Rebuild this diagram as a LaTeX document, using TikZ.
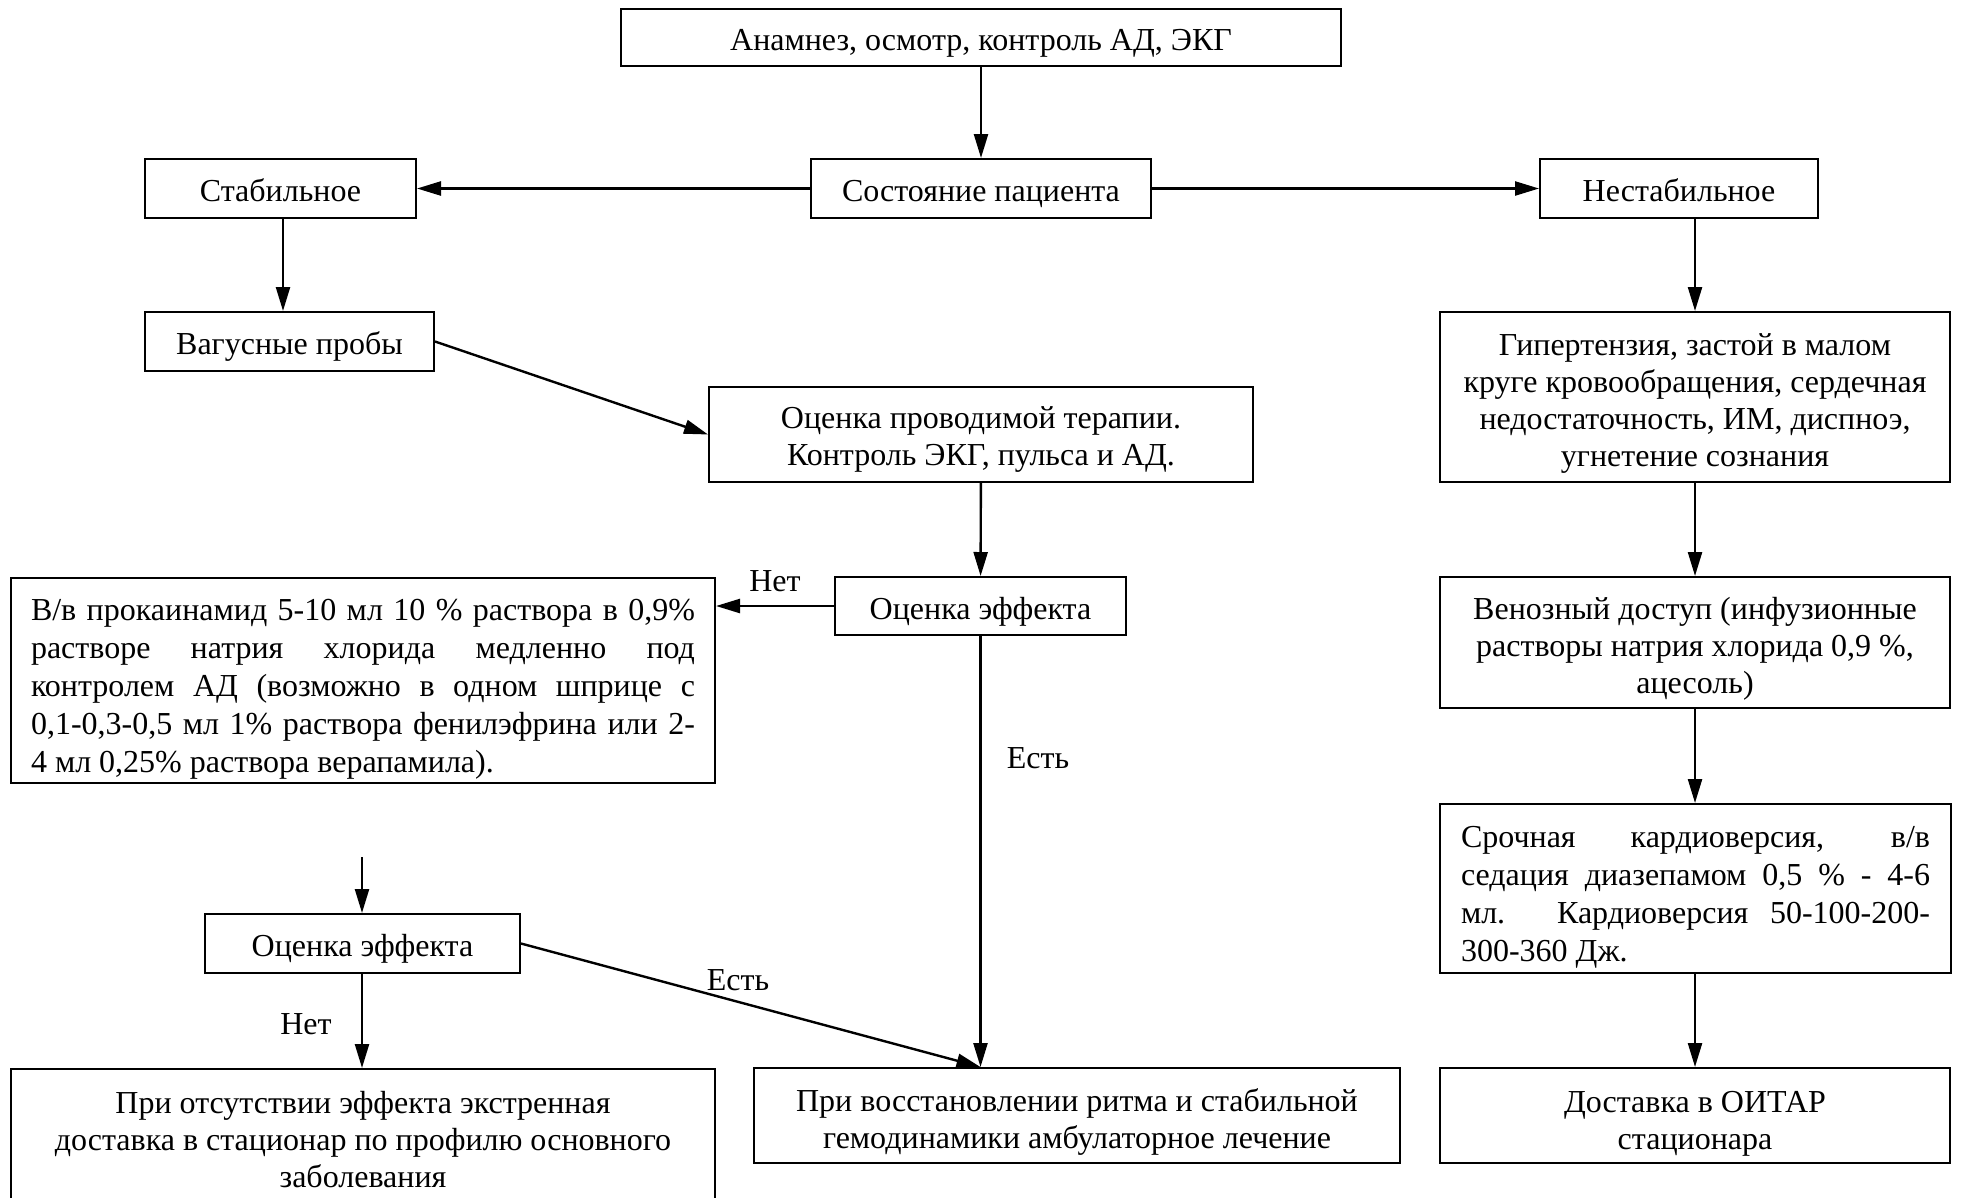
\documentclass[tikz,border=0pt]{standalone}
\usepackage{fontspec}
\setmainfont{Liberation Serif}
\usetikzlibrary{arrows.meta,calc}
\newcommand{\fs}{\fontsize{32}{37}\selectfont}
\newcommand{\fsj}{\fontsize{32}{38}\selectfont}
\newcommand{\jl}[2]{\makebox[#1][s]{\spaceskip=0pt\xspaceskip=0pt #2}}
\begin{document}
\begin{tikzpicture}[x=1pt,y=-1pt,
  box/.style={draw,line width=2pt,inner sep=0pt,align=center,font=\fs},
  one/.style={text height=28pt,text depth=2pt},
  txt/.style={inner sep=0pt,align=center,font=\fs},
  arr/.style={line width=2.4pt,-{Triangle[length=24pt,width=14pt]}},
  lbl/.style={inner sep=0pt,font=\fs}]
\useasboundingbox (0,0) rectangle (1961,1197);
% single-line boxes
\node[box,one,minimum width=720pt,minimum height=57pt] (top) at (981,37.5) {Анамнез, осмотр, контроль АД, ЭКГ};
\node[box,one,minimum width=340pt,minimum height=59pt] (state) at (981,188.5) {Состояние пациента};
\node[box,one,minimum width=271pt,minimum height=59pt] (stab) at (280.5,188.5) {Стабильное};
\node[box,one,minimum width=278pt,minimum height=59pt] (unstab) at (1679,188.5) {Нестабильное};
\node[box,one,minimum width=289pt,minimum height=59pt] (vagus) at (289.5,341.5) {Вагусные пробы};
\node[box,one,minimum width=291pt,minimum height=58pt] (eff1) at (980.5,606) {Оценка эффекта};
\node[box,one,minimum width=315pt,minimum height=59pt] (eff2) at (362.5,943.5) {Оценка эффекта};
% multi-line boxes: frame + text
\node[box,minimum width=510pt,minimum height=170pt] (hyper) at (1695,397) {};
\node[txt] (hypert) at (1695,403) {Гипертензия, застой в малом\\круге кровообращения, сердечная\\недостаточность, ИМ, диспноэ,\\угнетение сознания};
\node[box,minimum width=544pt,minimum height=95pt] (evalth) at (981,434.5) {};
\node[txt] (evaltht) at (981,439.5) {Оценка проводимой терапии.\\Контроль ЭКГ, пульса и АД.};
\node[box,minimum width=704pt,minimum height=205pt] (proc) at (363,680.5) {};
\node[txt,align=left,font=\fsj] (proct) at (363,689.5) {%
\jl{664pt}{В/в прокаинамид 5-10 мл 10 \% раствора в 0,9\%}\\
\jl{664pt}{растворе натрия хлорида медленно под}\\
\jl{664pt}{контролем АД (возможно в одном шприце с}\\
\jl{664pt}{0,1-0,3-0,5 мл 1\% раствора фенилэфрина или 2-}\\
4 мл 0,25\% раствора верапамила).};
\node[box,minimum width=510pt,minimum height=131pt] (venous) at (1695,642.5) {};
\node[txt] (venoust) at (1695,649) {Венозный доступ (инфузионные\\растворы натрия хлорида 0,9 \%,\\ацесоль)};
\node[box,minimum width=511pt,minimum height=169pt] (urgent) at (1695.5,888.5) {};
\node[txt,align=left,font=\fsj] (urgentt) at (1695.5,897) {%
\jl{469pt}{Срочная кардиоверсия, в/в}\\
\jl{469pt}{седация диазепамом 0,5 \% - 4-6}\\
\jl{469pt}{мл. Кардиоверсия 50-100-200-}\\
300-360 Дж.};
\node[box,minimum width=704pt,minimum height=150pt,anchor=north] (noeff) at (363,1068) {};
\node[txt] (noefft) at (363,1140) {При отсутствии эффекта экстренная\\доставка в стационар по профилю основного\\заболевания};
\node[box,minimum width=646pt,minimum height=95pt] (restored) at (1077,1115.5) {};
\node[txt] (restoredt) at (1077,1122) {При восстановлении ритма и стабильной\\гемодинамики амбулаторное лечение};
\node[box,minimum width=510pt,minimum height=95pt] (deliver) at (1695,1115.5) {};
\node[txt] (delivert) at (1695,1123.5) {Доставка в ОИТАР\\стационара};
\coordinate (free) at (362,857);
% connectors
\draw[arr] (top) -- (state);
\draw[arr] (state) -- (stab);
\draw[arr] (state) -- (unstab);
\draw[arr] (stab.south -| 283,0) -- (vagus.north -| 283,0);
\draw[arr] (vagus.east) -- (evalth.west);
\draw[arr] (evalth) -- (eff1);
\draw[arr] (eff1.west) -- (eff1.west -| proc.east);
\draw[arr] (eff1.south) -- (eff1.south |- restored.north);
\draw[arr] (hyper.north |- unstab.south) -- (hyper.north);
\draw[arr] (hyper) -- (venous);
\draw[arr] (venous) -- (urgent.north -| venous.south);
\draw[arr] (urgent.south -| deliver.north) -- (deliver.north);
\draw[arr] (free) -- (eff2.north -| free);
\draw[arr] (eff2.south -| free) -- (noeff.north -| free);
\draw[arr] (eff2.east) -- (eff1.south |- restored.north);
% labels
\node[lbl] (l1) at (775,581) {Нет};
\node[lbl] (l2) at (1038,758) {Есть};
\node[lbl] (l3) at (738,980) {Есть};
\node[lbl] (l4) at (306,1024) {Нет};
\end{tikzpicture}
\end{document}
